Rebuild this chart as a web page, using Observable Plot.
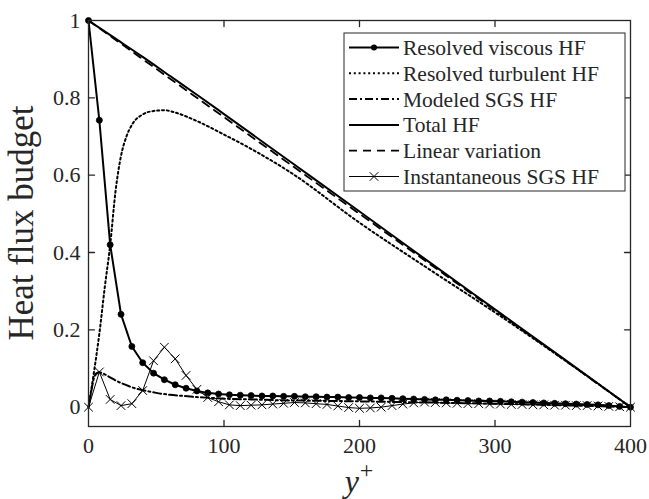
<!DOCTYPE html>
<html>
<head>
<meta charset="utf-8">
<script src="https://cdn.jsdelivr.net/npm/d3@7"></script>
<script src="https://cdn.jsdelivr.net/npm/@observablehq/plot@0.6"></script>
<style>
  html, body { margin: 0; padding: 0; background: #fff; }
  #chart svg { display: block; }
</style>
</head>
<body>
<div id="chart"></div>
<script>
// ---- Data ----
const seriesNames = ["Resolved viscous HF", "Resolved turbulent HF", "Modeled SGS HF", "Total HF", "Linear variation", "Instantaneous SGS HF"];

const sampleX = [0,8,16,24,32,40,48,56,64,72,80,88,96,104,112,120,128,136,144,152,160,168,176,184,192,200,208,216,224,232,240,248,256,264,272,280,288,296,304,312,320,328,336,344,352,360,368,376,384,392,400];

const viscousY = [1.0,0.742,0.42,0.24,0.157,0.115,0.088,0.071,0.058,0.049,0.042,0.037,0.034,0.032,0.031,0.030,0.029,0.029,0.028,0.028,0.027,0.027,0.026,0.026,0.025,0.025,0.024,0.024,0.023,0.022,0.021,0.020,0.019,0.019,0.018,0.017,0.016,0.016,0.015,0.014,0.013,0.012,0.011,0.010,0.009,0.008,0.007,0.006,0.004,0.002,0.0];

const instSgsY = [0,0.091,0.02,0.004,0.009,0.043,0.12,0.155,0.125,0.082,0.046,0.025,0.014,0.006,0.004,0.005,0.006,0.008,0.010,0.012,0.011,0.009,0.007,0.003,-0.001,-0.003,-0.002,0.0,0.004,0.008,0.011,0.013,0.012,0.011,0.010,0.009,0.009,0.008,0.008,0.007,0.007,0.006,0.006,0.005,0.005,0.004,0.004,0.003,0.002,0.001,0];

const modeledX = [0,2,4,6,8,12,16,20,25,30,35,40,50,60,70,80,90,100,120,140,160,180,200,250,300,350,400];
const modeledY = [0,0.04,0.075,0.088,0.09,0.085,0.077,0.069,0.061,0.054,0.048,0.044,0.037,0.032,0.029,0.026,0.024,0.022,0.020,0.018,0.017,0.016,0.015,0.012,0.009,0.005,0];

const turbX = [0,4,8,12,16,20,24,28,32,40,48,56,64,72,80,100,120,150,200,250,300,350,400];
const turbY = [0,0.09,0.19,0.31,0.42,0.56,0.65,0.70,0.73,0.757,0.766,0.768,0.762,0.752,0.74,0.705,0.668,0.605,0.477,0.36,0.245,0.125,0];

const totalX = [0,20,40,60,80,100,150,200,250,300,350,400];
const totalY = [1,0.953,0.906,0.857,0.808,0.758,0.632,0.506,0.379,0.253,0.127,0];

const linearX = [0,400];
const linearY = [1,0];

const xTicks = [0,100,200,300,400];
const xTickLabels = ["0","100","200","300","400"];
const yTicks = [0,0.2,0.4,0.6,0.8,1];
const yTickLabels = ["0","0.2","0.4","0.6","0.8","1"];
const xLabelBase = "y";
const xLabelSup = "+";
const yLabel = "Heat flux budget";

// ---- Build tables ----
const zip = (xs, ys) => xs.map((x, i) => ({x, y: ys[i]}));
const viscous = zip(sampleX, viscousY);
const instSgs = zip(sampleX, instSgsY);
const modeled = zip(modeledX, modeledY);
const turb = zip(turbX, turbY);
const total = zip(totalX, totalY);
const linear = zip(linearX, linearY);

const FONT = "'Liberation Serif', 'Times New Roman', serif";
const INK = "#000";
const AXIS = "#262626";

const styles = [
  {stroke: INK, strokeWidth: 2, dash: null, marker: "circle"},
  {stroke: INK, strokeWidth: 2, dash: "2,2.8", marker: null},
  {stroke: INK, strokeWidth: 2, dash: "8,3,2,3", marker: null},
  {stroke: INK, strokeWidth: 2, dash: null, marker: null},
  {stroke: INK, strokeWidth: 1.8, dash: "8,6", marker: null},
  {stroke: INK, strokeWidth: 1, dash: null, marker: "times"}
];

// plain straight tick shape for Plot.vector
const tickShape = {draw(context, l) { context.moveTo(0, 0); context.lineTo(0, -l); }};
const tickOpts = {length: 6, anchor: "start", shape: tickShape, stroke: AXIS, strokeWidth: 1.3};

const chart = Plot.plot({
  width: 649,
  height: 499,
  marginLeft: 88,
  marginRight: 19,
  marginTop: 20,
  marginBottom: 73,
  style: {fontFamily: FONT, background: "#fff", color: AXIS},
  x: {domain: [0, 400]},
  y: {domain: [-0.05, 1]},
  marks: [
    Plot.line(linear, {x: "x", y: "y", stroke: INK, strokeWidth: styles[4].strokeWidth, strokeDasharray: styles[4].dash}),
    Plot.line(total, {x: "x", y: "y", stroke: INK, strokeWidth: styles[3].strokeWidth, curve: "monotone-x"}),
    Plot.line(turb, {x: "x", y: "y", stroke: INK, strokeWidth: styles[1].strokeWidth, strokeDasharray: styles[1].dash, curve: "monotone-x"}),
    Plot.line(modeled, {x: "x", y: "y", stroke: INK, strokeWidth: styles[2].strokeWidth, strokeDasharray: styles[2].dash, curve: "monotone-x"}),
    Plot.line(instSgs, {x: "x", y: "y", stroke: INK, strokeWidth: 1}),
    Plot.dot(instSgs, {x: "x", y: "y", symbol: "times", r: 4, stroke: INK, strokeWidth: 1}),
    Plot.line(viscous, {x: "x", y: "y", stroke: INK, strokeWidth: 2}),
    Plot.dot(viscous, {x: "x", y: "y", r: 3, fill: INK, stroke: INK, strokeWidth: 0.8}),
    Plot.frame({stroke: AXIS, strokeWidth: 1.3}),
    // inward tick marks on all four sides
    Plot.vector(xTicks.slice(1, -1), {x: d => d, frameAnchor: "bottom", rotate: 0, ...tickOpts}),
    Plot.vector(xTicks.slice(1, -1), {x: d => d, frameAnchor: "top", rotate: 180, ...tickOpts}),
    Plot.vector(yTicks.slice(1, -1), {y: d => d, frameAnchor: "left", rotate: 90, ...tickOpts}),
    Plot.vector(yTicks.slice(1, -1), {y: d => d, frameAnchor: "right", rotate: -90, ...tickOpts}),
    // tick labels
    Plot.axisX(xTicks, {anchor: "bottom", tickSize: 0, tickPadding: 11, tickFormat: (d) => xTickLabels[xTicks.indexOf(d)], fontSize: 22, fill: AXIS, label: null}),
    Plot.axisY(yTicks, {anchor: "left", tickSize: 0, tickPadding: 8, tickFormat: (d) => yTickLabels[yTicks.indexOf(d)], fontSize: 22, fill: AXIS, label: null})
  ]
});

document.getElementById("chart").appendChild(chart);

// ---- Axis titles and legend (real SVG text) ----
const svg = d3.select(chart);
const W = 649, H = 499, mL = 88, mR = 19, mT = 20, mB = 73;
const cx = (mL + (W - mR)) / 2;
const cy = (mT + (H - mB)) / 2;

const xl = svg.append("text")
  .attr("x", cx).attr("y", 492)
  .attr("text-anchor", "middle")
  .attr("font-family", FONT)
  .attr("fill", AXIS);
xl.append("tspan").attr("font-style", "italic").attr("font-size", 32).text(xLabelBase);
xl.append("tspan").attr("font-size", 24).attr("dy", -14).attr("dx", 1).text(xLabelSup);

svg.append("text")
  .attr("transform", `translate(${33},${cy}) rotate(-90)`)
  .attr("text-anchor", "middle")
  .attr("font-family", FONT)
  .attr("font-size", 35)
  .attr("fill", AXIS)
  .text(yLabel);

// legend
const lg = svg.append("g");
const lx0 = 344, ly0 = 33, lw = 281, lh = 158;
lg.append("rect").attr("x", lx0).attr("y", ly0).attr("width", lw).attr("height", lh)
  .attr("fill", "#fff").attr("stroke", AXIS).attr("stroke-width", 1);
seriesNames.forEach((name, i) => {
  const yy = 47.5 + i * 25.8;
  const s = styles[i];
  lg.append("line").attr("x1", 349).attr("x2", 399).attr("y1", yy).attr("y2", yy)
    .attr("stroke", s.stroke).attr("stroke-width", s.strokeWidth)
    .attr("stroke-dasharray", s.dash);
  if (s.marker === "circle") {
    lg.append("circle").attr("cx", 374).attr("cy", yy).attr("r", 3).attr("fill", INK);
  } else if (s.marker === "times") {
    lg.append("path").attr("d", d3.symbol(d3.symbolTimes, 50)()).attr("transform", `translate(374,${yy})`)
      .attr("stroke", INK).attr("fill", "none").attr("stroke-width", 1);
  }
  lg.append("text").attr("x", 403).attr("y", yy).attr("dy", "0.35em")
    .attr("text-anchor", "start")
    .attr("font-family", FONT).attr("font-size", 21.5).attr("fill", AXIS).text(name);
});
</script>
</body>
</html>
